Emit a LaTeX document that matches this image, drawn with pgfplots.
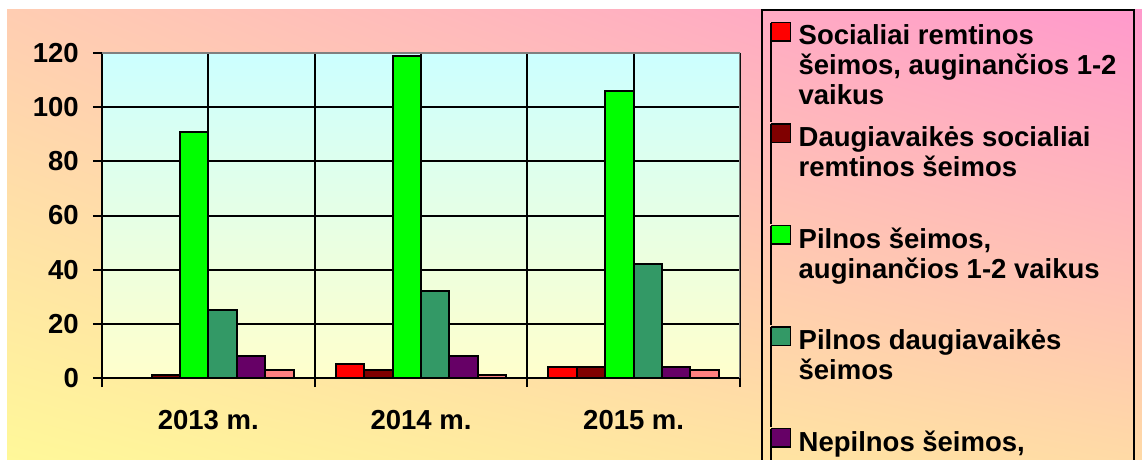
\documentclass[border=0pt]{standalone}
\usepackage{pgfplots}
\pgfplotsset{compat=1.18}
\usetikzlibrary{shadings}
\usepackage{fontspec}
\setmainfont{Liberation Sans}
\definecolor{bgUL}{HTML}{FFCDB2}
\definecolor{bgUR}{HTML}{FF99CC}
\definecolor{bgLL}{HTML}{FFF899}
\definecolor{bgLR}{HTML}{FFDAA6}
\definecolor{paTop}{HTML}{CCFFFF}
\definecolor{paBot}{HTML}{FFFFCC}
\definecolor{sRed}{HTML}{FF0000}
\definecolor{sDarkRed}{HTML}{800000}
\definecolor{sGreen}{HTML}{00FF00}
\definecolor{sSea}{HTML}{339966}
\definecolor{sPurple}{HTML}{660066}
\definecolor{sPink}{HTML}{FF8080}
\definecolor{bordergray}{HTML}{808080}
\newcommand\LE[1]{\parbox[t]{325pt}{\raggedright\lineskiplimit=-\maxdimen\rule{0pt}{20pt}#1}}
\begin{document}
\begin{tikzpicture}[x=1pt,y=1pt]
\path[use as bounding box] (0,0) rectangle (1142,460);
\clip (0,0) rectangle (1142,460);
\fill[white] (0,0) rectangle (1142,460);
\shade[upper left=bgUL, upper right=bgUR, lower left=bgLL, lower right=bgLR] (7,0) rectangle (1142,450);
\begin{axis}[
  at={(102pt,82pt)}, anchor=south west,
  width=638pt, height=325pt, scale only axis,
  xmin=-0.5, xmax=2.5, ymin=0, ymax=120,
  axis x line*=bottom, axis y line*=left,
  axis line style={black, line width=2.5pt},
  axis background/.style={shade, top color=paTop, bottom color=paBot},
  ybar=0pt, bar width=28.4pt,
  xtick={0,1,2}, xticklabels={2013 m.,2014 m.,2015 m.},
  minor xtick={-0.5,0.5,1.5,2.5},
  ytick={0,20,...,120},
  xmajorgrids, xminorgrids, ymajorgrids,
  major grid style={black, line width=2pt},
  minor grid style={black, line width=2pt},
  tick align=outside,
  major tick length=9pt, minor tick length=9pt,
  major x tick style={draw=none},
  every tick/.style={black, line width=2pt},
  minor x tick style={black, line width=2pt},
  /pgf/number format/assume math mode=true,
  ticklabel style={font=\bfseries\fontsize{27.5}{31}\selectfont},
  yticklabel style={anchor=east, inner sep=0pt, xshift=-14pt},
  xticklabel style={anchor=north, inner sep=0pt, yshift=-23pt},
  every axis plot/.append style={draw=black, line width=2pt},
  legend cell align=left,
  legend image code/.code={\path (0pt,0pt) -- (0pt,-99.5pt);\draw[#1,/tikz/.cd,draw=black,line width=1.5pt] (0pt,0pt) rectangle (19pt,-18.5pt);},
  legend style={at={(1.03448,1.13231)}, anchor=north west,
    draw=black, line width=2pt, fill=none, outer sep=0pt,
    inner xsep=8.4pt, inner ysep=11.7pt,
    column sep=5.5pt, row sep=0pt,
    cells={anchor=north west, inner sep=0pt},
    font=\bfseries\fontsize{27.5}{30}\selectfont},
]
\addplot[fill=sRed] coordinates {(0,0) (1,5) (2,4)};
\addplot[fill=sDarkRed] coordinates {(0,1) (1,3) (2,4)};
\addplot[fill=sGreen] coordinates {(0,91) (1,119) (2,106)};
\addplot[fill=sSea] coordinates {(0,25) (1,32) (2,42)};
\addplot[fill=sPurple] coordinates {(0,8) (1,8) (2,4)};
\addplot[fill=sPink] coordinates {(0,3) (1,1) (2,3)};
\legend{\LE{Socialiai remtinos\\šeimos, auginančios 1-2\\vaikus},
        \LE{Daugiavaikės socialiai\\remtinos šeimos},
        \LE{Pilnos šeimos,\\auginančios 1-2 vaikus},
        \LE{Pilnos daugiavaikės\\šeimos},
        \LE{Nepilnos šeimos,\\auginančios 1-2 vaikus},
        \LE{Nepilnos daugiavaikės\\šeimos}}
\draw[bordergray, line width=2.5pt] (rel axis cs:0,1) -- (rel axis cs:1,1) -- (rel axis cs:1,0);
\end{axis}
\end{tikzpicture}
\end{document}
